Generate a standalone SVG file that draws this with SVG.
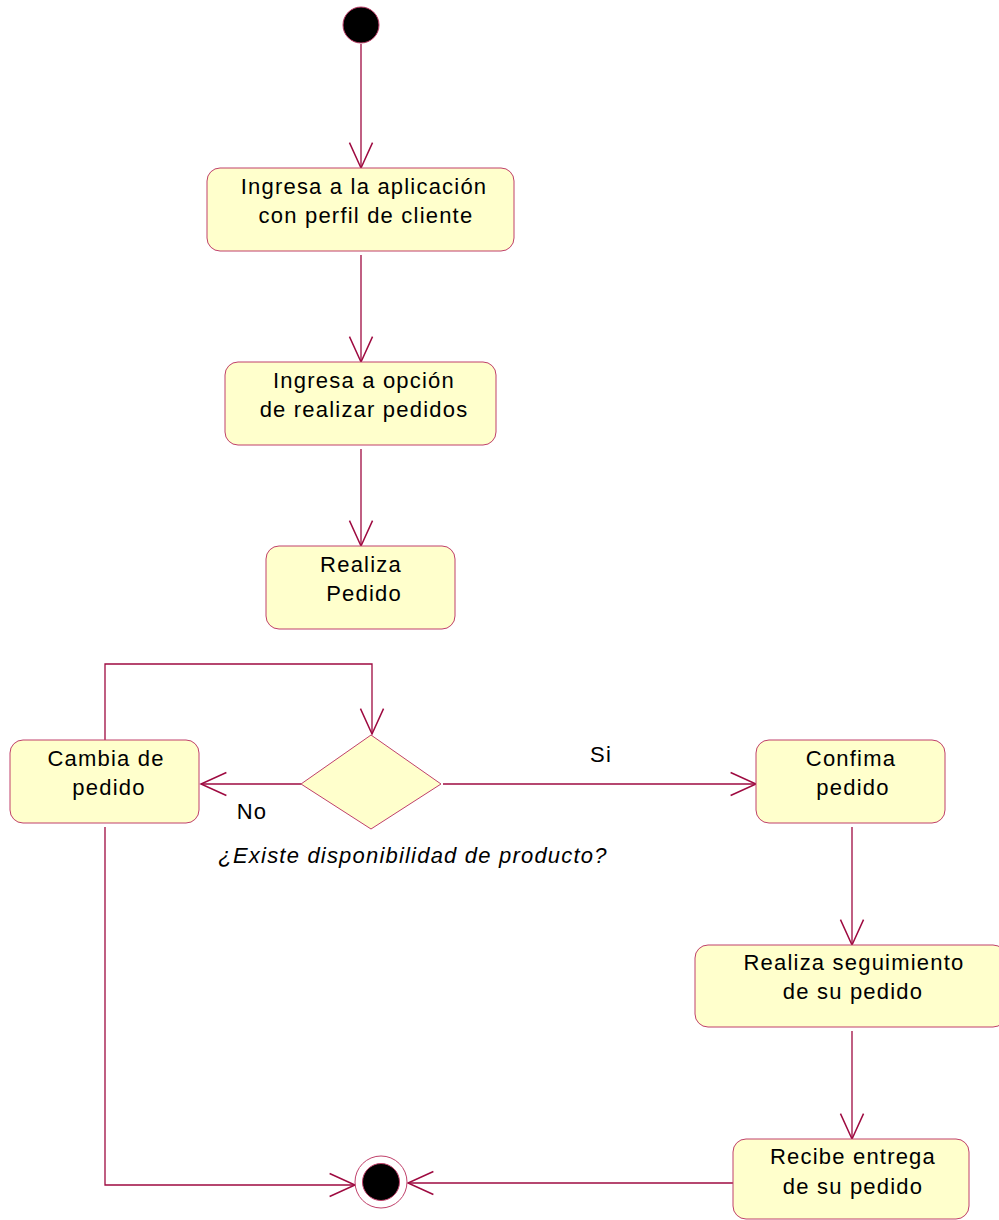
<svg xmlns="http://www.w3.org/2000/svg" width="999" height="1220" viewBox="0 0 999 1220">
<defs>
<style>
.n{fill:#FFFFCC;stroke:#C0406A;stroke-width:1}
.t{font-family:"Liberation Sans",Arial,sans-serif;font-size:22px;letter-spacing:1.2px;fill:#000;text-anchor:middle}
.c{fill:none;stroke:#9E0A40;stroke-width:1.3}
</style>
<marker id="a" markerUnits="userSpaceOnUse" markerWidth="30" markerHeight="30" viewBox="-24 -12 26 24" refX="0" refY="0" orient="auto">
<path d="M-22,-10 L0,0 L-22,10" fill="none" stroke="#9E0A40" stroke-width="1.3"/>
</marker>
</defs>
<rect width="999" height="1220" fill="#fff"/>
<g id="connectors">
<line class="c" x1="361" y1="44" x2="361" y2="168" marker-end="url(#a)"/>
<line class="c" x1="361" y1="255" x2="361" y2="362" marker-end="url(#a)"/>
<line class="c" x1="361" y1="449" x2="361" y2="546" marker-end="url(#a)"/>
<line class="c" x1="301" y1="784" x2="201" y2="784" marker-end="url(#a)"/>
<line class="c" x1="443" y1="784" x2="756" y2="784" marker-end="url(#a)"/>
<polyline class="c" points="105,740 105,664 372,664 372,734" marker-end="url(#a)"/>
<line class="c" x1="852" y1="827" x2="852" y2="945" marker-end="url(#a)"/>
<line class="c" x1="852" y1="1031" x2="852" y2="1139" marker-end="url(#a)"/>
<line class="c" x1="733" y1="1183" x2="408" y2="1183" marker-end="url(#a)"/>
<polyline class="c" points="105,827 105,1185 355,1185" marker-end="url(#a)"/>
<text class="t" x="252" y="819">No</text>
<text class="t" x="601" y="762">Si</text>
</g>
<g id="start"><circle cx="361" cy="25" r="18" fill="#000" stroke="#C0406A" stroke-width="1"/></g>
<g id="n1"><rect class="n" x="207" y="168" width="307" height="83" rx="13"/>
<text class="t" x="364" y="194">Ingresa a la aplicación</text>
<text class="t" x="366" y="223">con perfil de cliente</text></g>
<g id="n2"><rect class="n" x="225" y="362" width="271" height="83" rx="13"/>
<text class="t" x="364" y="388">Ingresa a opción</text>
<text class="t" x="364" y="417">de realizar pedidos</text></g>
<g id="n3"><rect class="n" x="266" y="546" width="189" height="83" rx="13"/>
<text class="t" x="361" y="572">Realiza</text>
<text class="t" x="364" y="601">Pedido</text></g>
<g id="decision"><polygon class="n" points="371,735 441,784 371,829 301,784"/>
<text class="t" x="413" y="863" font-style="italic">¿Existe disponibilidad de producto?</text></g>
<g id="cambia"><rect class="n" x="10" y="740" width="189" height="83" rx="13"/>
<text class="t" x="106" y="766">Cambia de</text>
<text class="t" x="109" y="795">pedido</text></g>
<g id="confima"><rect class="n" x="756" y="740" width="189" height="83" rx="13"/>
<text class="t" x="851" y="766">Confima</text>
<text class="t" x="853" y="795">pedido</text></g>
<g id="seguimiento"><rect class="n" x="695" y="945" width="311" height="82" rx="13"/>
<text class="t" x="854" y="970">Realiza seguimiento</text>
<text class="t" x="853" y="999">de su pedido</text></g>
<g id="recibe"><rect class="n" x="733" y="1139" width="236" height="80" rx="13"/>
<text class="t" x="853" y="1164">Recibe entrega</text>
<text class="t" x="853" y="1194">de su pedido</text></g>
<g id="end"><circle cx="381" cy="1182" r="26" fill="#fff" stroke="#C0406A" stroke-width="1"/>
<circle cx="381" cy="1182" r="18.5" fill="#000" stroke="#C0406A" stroke-width="1"/></g>
</svg>
